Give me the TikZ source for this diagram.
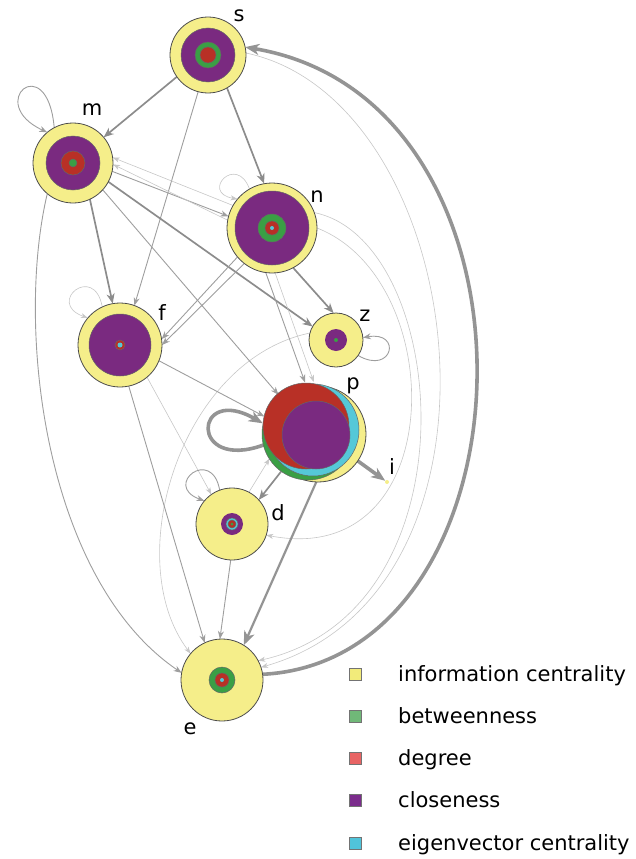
\documentclass[tikz,border=0pt]{standalone}
\usepackage{fontspec}
\setmainfont{DejaVu Sans}
\usetikzlibrary{arrows.meta,backgrounds}
\definecolor{cyel}{HTML}{F5EE8A}
\definecolor{cpur}{HTML}{7A2A80}
\definecolor{cgrn}{HTML}{3A9F45}
\definecolor{cred}{HTML}{B83026}
\definecolor{ccya}{HTML}{55C8D8}
\definecolor{lyel}{HTML}{F2EB7A}
\definecolor{lgrn}{HTML}{70B878}
\definecolor{lred}{HTML}{E86464}
\definecolor{lpur}{HTML}{7B2C8C}
\definecolor{lcya}{HTML}{50C4DA}
\begin{document}
\begin{tikzpicture}[x=1pt,y=-1pt,
  vtx/.style={circle, draw=black!70, line width=0.8pt, fill=cyel, inner sep=0pt, outer sep=0pt},
  ring/.style={circle, draw=black!60, line width=0.5pt, inner sep=0pt, outer sep=0pt},
  lbl/.style={font=\fontsize{21}{25}\selectfont, inner sep=0pt},
  lsq/.style={draw=black!55, line width=0.8pt, minimum size=12pt, inner sep=0pt},
  ltext/.style={font=\fontsize{21}{25}\selectfont, inner sep=0pt, anchor=base west},
  efaint/.style={draw=black!22, line width=0.6pt, -{Stealth[length=7pt,width=5pt,inset=2pt]}},
  elight/.style={draw=black!38, line width=0.9pt, -{Stealth[length=8pt,width=6pt,inset=2.5pt]}},
  emed/.style={draw=black!45, line width=1.7pt, -{Stealth[length=10pt,width=8pt,inset=3pt]}},
  ethick/.style={draw=black!42, line width=3.6pt, -{Stealth[length=14pt,width=11pt,inset=4pt]}}]
\useasboundingbox (0,0) rectangle (635,859);

% ---- vertices ----
\node[vtx, minimum size=76pt] (s) at (208,55) {};
\node[ring, fill=cpur, minimum size=54pt] (s1) at (s) {};
\node[ring, fill=cgrn, minimum size=26pt] (s2) at (s) {};
\node[ring, fill=cred, minimum size=16pt] (s3) at (s) {};

\node[vtx, minimum size=80pt] (m) at (73,163) {};
\node[ring, fill=cpur, minimum size=54pt] (m1) at (m) {};
\node[ring, fill=cred, minimum size=24pt] (m2) at (m) {};
\node[ring, fill=cgrn, minimum size=8pt] (m3) at (m) {};

\node[vtx, minimum size=90pt] (n) at (272,228) {};
\node[ring, fill=cpur, minimum size=74pt] (n1) at (n) {};
\node[ring, fill=cgrn, minimum size=28pt] (n2) at (n) {};
\node[ring, fill=cred, minimum size=14pt] (n3) at (n) {};
\node[ring, fill=ccya, draw=none, minimum size=4pt] (n4) at (n) {};

\node[vtx, minimum size=84pt] (f) at (120,345) {};
\node[ring, fill=cpur, minimum size=62pt] (f1) at (f) {};
\node[ring, fill=cred, minimum size=10pt] (f2) at (f) {};
\node[ring, fill=ccya, draw=none, minimum size=5pt] (f3) at (f) {};

\node[vtx, minimum size=54pt] (z) at (336,340) {};
\node[ring, fill=cpur, draw=none, minimum size=22pt] (z1) at (z) {};
\node[ring, fill=cgrn, draw=none, minimum size=4pt] (z2) at (z) {};

\node[circle, minimum size=100pt, inner sep=0pt, outer sep=0pt] (p) at (312,432) {};
\node[vtx, minimum size=96pt] (p1) at (318,434) {};
\node[ring, fill=cgrn, minimum size=92pt] (p2) at (308,434) {};
\node[ring, fill=ccya, minimum size=92pt] (p3) at (313,430) {};
\node[ring, fill=cred, minimum size=86pt] (p4) at (306,426) {};
\node[ring, fill=cpur, minimum size=68pt] (p5) at (316,435) {};

\node[circle, fill=cyel, inner sep=0pt, minimum size=4pt] (i) at (387,482) {};

\node[vtx, minimum size=72pt] (d) at (232,524) {};
\node[ring, fill=cpur, draw=none, minimum size=22pt] (d1) at (d) {};
\node[ring, fill=ccya, minimum size=12pt] (d2) at (d) {};
\node[ring, fill=cred, minimum size=8pt] (d3) at (d) {};
\node[ring, fill=cgrn, draw=none, minimum size=3pt] (d4) at (d) {};

\node[vtx, minimum size=82pt] (e) at (222,680) {};
\node[ring, fill=cgrn, minimum size=26pt] (e1) at (e) {};
\node[ring, fill=cred, minimum size=14pt] (e2) at (e) {};
\node[ring, fill=ccya, draw=none, minimum size=4pt] (e3) at (e) {};

% ---- labels ----
\node[lbl] (ls) at (239,16) {s};
\node[lbl] (lm) at (92,110) {m};
\node[lbl] (ln) at (317,197) {n};
\node[lbl] (lf) at (162,313) {f};
\node[lbl] (lz) at (365,316) {z};
\node[lbl] (lp) at (353,386) {p};
\node[lbl] (li) at (392,467) {i};
\node[lbl] (ld) at (278,513) {d};
\node[lbl] (le) at (190,729) {e};

% ---- edges ----
\begin{scope}[on background layer]
\draw[ethick] (e.8) .. controls (540,660) and (560,100) .. (s.12);
\draw[efaint] (s.3) .. controls (470,100) and (530,590) .. (e.18);
\draw[efaint] (n.20) .. controls (450,240) and (480,610) .. (e.28);
\draw[efaint] (n.0) .. controls (450,280) and (450,570) .. (d.-18);
\draw[efaint] (z.165) .. controls (180,360) and (120,560) .. (e.140);

\draw[emed] (s.-145) -- (m.40);
\draw[emed] (s.-60) -- (n.100);
\draw[elight] (s.-105) -- (f.70);
\draw[emed] (m.-65) -- (f.100);
\draw[elight] (m.-130) .. controls (15,330) and (45,580) .. (e.170);
\draw[elight] (m.-12) -- (n.165);
\draw[efaint] (n.150) -- (m.8);
\draw[efaint] (n.170) -- (m.-2);
\draw[emed] (m.-28) -- (z.150);
\draw[emed] (n.-62) -- (z.95);
\draw[elight] (n.-140) -- (f.8);
\draw[elight] (n.-128) -- (f.0);
\draw[elight] (m.-42) -- (p.132);
\draw[elight] (n.-98) -- (p.98);
\draw[efaint] (n.-86) -- (p.88);
\draw[elight] (f.-22) -- (p.162);
\draw[efaint] (f.-50) -- (d.125);
\draw[elight] (f.-78) -- (e.115);
\draw[ethick, line width=2.2pt] (p.-85) -- (e.58);
\draw[emed] (p.-128) -- (d.42);
\draw[efaint] (d.62) -- (p.-148);
\draw[elight] (d.-92) -- (e.93);
\draw[ethick] (p.-32) -- (i);

% loops
\draw[elight] (m.118) .. controls +(95:80pt) and +(155:70pt) .. (m.130);
\draw[efaint] (n.120) .. controls +(110:38pt) and +(170:38pt) .. (n.140);
\draw[efaint] (f.115) .. controls +(100:45pt) and +(160:45pt) .. (f.140);
\draw[elight] (z.-35) .. controls +(-30:40pt) and +(10:40pt) .. (z.5);
\draw[ethick] (p.195) .. controls +(200:80pt) and +(150:80pt) .. (p.170);
\draw[elight] (d.110) .. controls +(100:45pt) and +(160:45pt) .. (d.140);
\end{scope}

% ---- legend ----
\node[lsq, fill=lyel] (k1) at (355,674) {};
\node[lsq, fill=lgrn] (k2) at (355,716) {};
\node[lsq, fill=lred] (k3) at (355,758) {};
\node[lsq, fill=lpur] (k4) at (355,800) {};
\node[lsq, fill=lcya] (k5) at (355,843) {};
\node[ltext] (t1) at (398,681.5) {information centrality};
\node[ltext] (t2) at (398,723.5) {betweenness};
\node[ltext] (t3) at (398,765.5) {degree};
\node[ltext] (t4) at (398,807.5) {closeness};
\node[ltext] (t5) at (398,850.5) {eigenvector centrality};
\end{tikzpicture}
\end{document}
